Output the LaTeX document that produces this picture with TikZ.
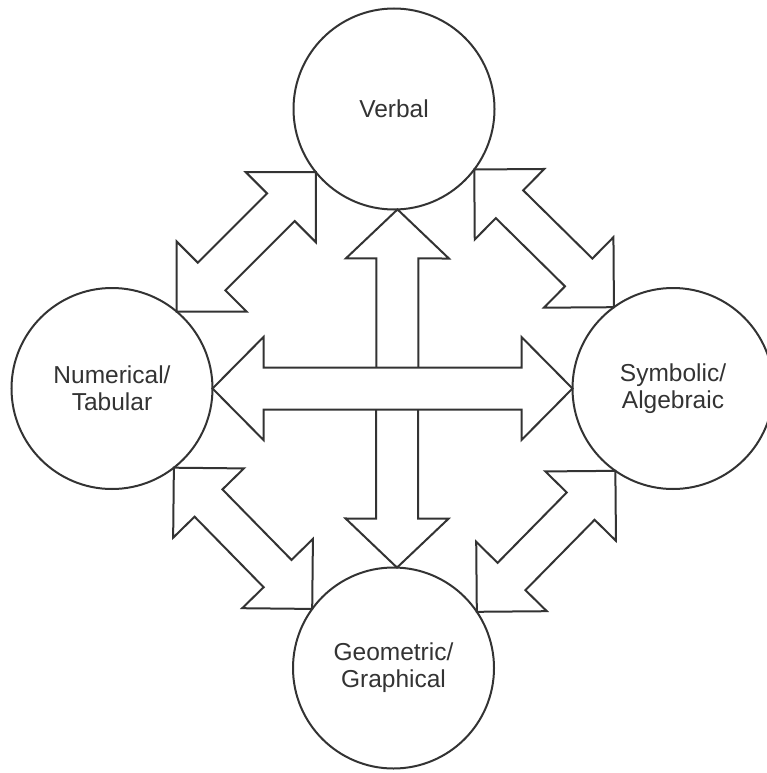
\documentclass[tikz,border=0pt]{standalone}
\usepackage{fontspec}
\setmainfont{Liberation Sans}
\usetikzlibrary{calc,backgrounds}
\definecolor{ink}{HTML}{333333}

% Double-headed block arrow between two tip points.
% #1,#2: tips; #3: half shaft width; #4: half head width; #5: head length
\newcommand\twoway[5]{%
  \coordinate (ta) at ($(#1)!#5!(#2)$);
  \coordinate (tb) at ($(#2)!#5!(#1)$);
  \filldraw[blockarrow] (#1)
    -- ($(ta)!#4!90:(#2)$) -- ($(ta)!#3!90:(#2)$)
    -- ($(tb)!#3!-90:(#1)$) -- ($(tb)!#4!-90:(#1)$)
    -- (#2)
    -- ($(tb)!#4!90:(#1)$) -- ($(tb)!#3!90:(#1)$)
    -- ($(ta)!#3!-90:(#2)$) -- ($(ta)!#4!-90:(#2)$)
    -- cycle;}

\begin{document}
\begin{tikzpicture}[x=1pt,y=-1pt,
  repr/.style={circle, draw=ink, line width=2pt, minimum size=201pt,
    inner sep=0pt, outer sep=0pt, align=center, text=ink,
    font=\fontsize{24.5}{27}\selectfont},
  blockarrow/.style={draw=ink, fill=white, line width=2pt, line join=miter}]
\useasboundingbox (0,0) rectangle (766,773);

% the four representations
\node[repr] (V) at (394,109)     {Verbal};
\node[repr] (N) at (112,388.5)   {Numerical/\\Tabular};
\node[repr] (S) at (673,388.5)   {Symbolic/\\Algebraic};
\node[repr] (G) at (393.5,668)   {Geometric/\\Graphical};

% block arrows linking them
\begin{pgfonlayer}{background}
  \twoway{V.272}{G.88}{21pt}{51.5pt}{49pt}
  \twoway{N.east}{S.west}{21pt}{51.5pt}{51pt}
  \twoway{N.50}{V.219}{19.5pt}{49.5pt}{49.5pt}
  \twoway{V.323}{S.126}{19.5pt}{49.5pt}{49.5pt}
  \twoway{N.308}{G.144}{19.5pt}{49.5pt}{49.5pt}
  \twoway{G.34}{S.235}{19.5pt}{49.5pt}{49.5pt}
\end{pgfonlayer}
\end{tikzpicture}
\end{document}
